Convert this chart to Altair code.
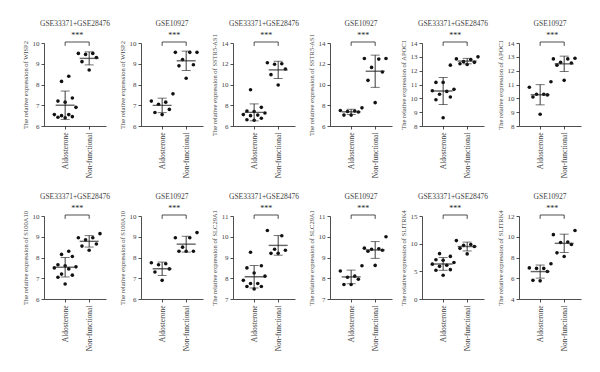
import altair as alt
import pandas as pd

FONT = "Liberation Serif"
INK = "#222222"
TXT = "#444444"

groups = ["Aldosterone", "Non-functional"]
datasets = ["GSE33371+GSE28476", "GSE10927"]
genes = ["WISP2", "SSTR5-AS1", "APOC1", "S100A10", "SLC29A1", "SLITRK4"]

# ---- values ----
wisp2_comb_aldo = [8.4, 8.15, 7.35, 7.2, 7.15, 6.9, 6.55, 6.55, 6.5, 6.45, 6.42, 6.4]
wisp2_comb_nonf = [9.5, 9.45, 9.5, 9.3, 9.1, 8.7]
wisp2_g109_aldo = [7.55, 7.2, 7.15, 7.05, 6.8, 6.65, 6.55]
wisp2_g109_nonf = [9.55, 9.55, 9.55, 9.2, 8.95, 8.9, 8.3]

sstr5_comb_aldo = [9.5, 7.8, 7.45, 7.4, 7.25, 7.1, 7.05, 7.0, 6.75, 6.6, 6.55]
sstr5_comb_nonf = [12.0, 11.95, 12.1, 11.5, 10.95, 9.95]
sstr5_g109_aldo = [7.75, 7.5, 7.45, 7.4, 7.35, 7.05, 7.05]
sstr5_g109_nonf = [12.5, 12.5, 12.45, 11.65, 11.2, 10.4, 8.25]

apoc1_comb_aldo = [12.4, 11.15, 11.15, 10.65, 10.55, 10.5, 10.3, 10.1, 9.9, 8.6]
apoc1_comb_nonf = [13.0, 12.85, 12.8, 12.65, 12.6, 12.5, 12.45]
apoc1_g109_aldo = [11.2, 10.8, 10.3, 10.3, 10.25, 10.1, 8.85]
apoc1_g109_nonf = [12.9, 12.85, 12.85, 12.6, 12.55, 12.4, 11.3]

s100_comb_aldo = [8.3, 8.15, 8.05, 7.65, 7.6, 7.55, 7.5, 7.45, 7.2, 7.15, 7.05, 6.72]
s100_comb_nonf = [9.15, 8.95, 8.95, 8.85, 8.65, 8.55, 8.35]
s100_g109_aldo = [7.75, 7.7, 7.65, 7.45, 7.3, 6.9]
s100_g109_nonf = [9.2, 8.95, 8.95, 8.5, 8.3, 8.3, 8.3]

slc_comb_aldo = [9.25, 8.6, 8.5, 8.25, 8.1, 7.9, 7.75, 7.75, 7.6, 7.6, 7.48]
slc_comb_nonf = [10.3, 10.05, 9.4, 9.35, 9.2, 9.2]
slc_g109_aldo = [8.6, 8.35, 8.1, 8.05, 7.95, 7.7, 7.7]
slc_g109_nonf = [10.0, 9.45, 9.42, 9.4, 9.35, 9.3, 8.62]

slit_comb_aldo = [8.2, 7.7, 7.1, 7.0, 6.6, 6.3, 6.1, 5.9, 5.3, 5.2, 4.3]
slit_comb_nonf = [10.55, 9.85, 9.7, 9.5, 9.15, 8.15]
slit_g109_aldo = [7.4, 7.0, 6.95, 6.95, 6.65, 5.8, 5.75]
slit_g109_nonf = [10.6, 10.2, 9.5, 9.45, 9.25, 8.45, 8.1]

# y axis ranges (min, max, step) per panel
y_ranges = [
    (6, 10, 1), (6, 10, 1), (6, 14, 2), (6, 14, 2), (8, 14, 1), (8, 14, 1),
    (6, 10, 1), (6, 10, 1), (7, 11, 1), (7, 11, 1), (0, 15, 5), (4, 12, 2),
]

panel_data = [
    (wisp2_comb_aldo, wisp2_comb_nonf), (wisp2_g109_aldo, wisp2_g109_nonf),
    (sstr5_comb_aldo, sstr5_comb_nonf), (sstr5_g109_aldo, sstr5_g109_nonf),
    (apoc1_comb_aldo, apoc1_comb_nonf), (apoc1_g109_aldo, apoc1_g109_nonf),
    (s100_comb_aldo, s100_comb_nonf), (s100_g109_aldo, s100_g109_nonf),
    (slc_comb_aldo, slc_comb_nonf), (slc_g109_aldo, slc_g109_nonf),
    (slit_comb_aldo, slit_comb_nonf), (slit_g109_aldo, slit_g109_nonf),
]

JIT = [0.0, -0.3, 0.3, -0.15, 0.15, -0.45, 0.45]
XDOM = [-0.88, 1.7]
W, H = 62, 83

label_expr = f"datum.value == 0 ? '{groups[0]}' : '{groups[1]}'"


def panel(title, gene, aldo, nonf, yr):
    lo, hi, step = yr
    rng = hi - lo
    rows = []
    for gi, vals in enumerate([aldo, nonf]):
        order = sorted(range(len(vals)), key=lambda i: vals[i])
        for rank, i in enumerate(order):
            rows.append({"g": gi, "x": gi + JIT[rank % len(JIT)], "v": vals[i]})
    df = pd.DataFrame(rows)

    xs = alt.Scale(domain=XDOM, nice=False, zero=False)
    ys = alt.Scale(domain=[lo, hi], nice=False, zero=False)
    xaxis = alt.Axis(values=[0, 1], labelExpr=label_expr, labelAngle=270, title=None,
                     grid=False, tickSize=3, labelPadding=3, labelFontSize=7.5,
                     labelFont=FONT, labelColor=TXT, domainColor=INK, tickColor=INK,
                     domainWidth=0.8, tickWidth=0.8)
    yaxis = alt.Axis(values=list(range(lo, hi + 1, step)), title=f"The relative expression of {gene}",
                     grid=False, tickSize=3, labelPadding=2, labelFontSize=7,
                     labelFont=FONT, labelColor=TXT, titleFont=FONT, titleFontSize=6.5,
                     titleFontWeight="normal", titleColor=TXT, titlePadding=4,
                     domainColor=INK, tickColor=INK, domainWidth=0.8, tickWidth=0.8)

    def X(f):
        return alt.X(f, scale=xs, axis=xaxis)

    def Y(f):
        return alt.Y(f, scale=ys, axis=yaxis)

    pts = alt.Chart(df).mark_circle(size=13, color="#111111", opacity=1).encode(
        x=X("x:Q"), y=Y("v:Q"))
    stats = alt.Chart(df).transform_aggregate(
        m="mean(v)", sd="stdev(v)", groupby=["g"]
    ).transform_calculate(lo="datum.m - datum.sd", hi="datum.m + datum.sd")
    bar = stats.mark_rule(color=INK, strokeWidth=0.9).encode(
        x=X("g:Q"), y=Y("lo:Q"), y2="hi:Q")
    cap_lo = stats.mark_tick(orient="horizontal", size=9, thickness=0.9, color=INK).encode(
        x=X("g:Q"), y=Y("lo:Q"))
    cap_hi = stats.mark_tick(orient="horizontal", size=9, thickness=0.9, color=INK).encode(
        x=X("g:Q"), y=Y("hi:Q"))
    mean = stats.mark_tick(orient="horizontal", size=19, thickness=1.4, color=INK).encode(
        x=X("g:Q"), y=Y("m:Q"))

    top = hi + 0.012 * rng
    br = pd.DataFrame({"a": [0], "b": [1], "y": [top]})
    legs = pd.DataFrame({"a": [0, 1], "y": [top, top], "y2": [hi - 0.035 * rng] * 2})
    star = pd.DataFrame({"a": [0.5], "y": [hi + 0.085 * rng], "t": ["***"]})
    bracket = alt.Chart(br).mark_rule(color=INK, strokeWidth=0.8).encode(
        x=X("a:Q"), x2="b:Q", y=Y("y:Q"))
    leg = alt.Chart(legs).mark_rule(color=INK, strokeWidth=0.8).encode(
        x=X("a:Q"), y=Y("y:Q"), y2="y2:Q")
    stars = alt.Chart(star).mark_text(font=FONT, fontSize=8, color=INK, baseline="middle").encode(
        x=X("a:Q"), y=Y("y:Q"), text="t:N")

    return alt.layer(pts, bar, cap_lo, cap_hi, mean, bracket, leg, stars).properties(
        width=W, height=H,
        title=alt.TitleParams(title, font=FONT, fontSize=7.5, fontWeight="normal",
                              color=TXT, offset=4, anchor="middle"),
    )


panels = []
for k in range(12):
    gene = genes[k // 2]
    ds = datasets[k % 2]
    aldo, nonf = panel_data[k]
    panels.append(panel(ds, gene, aldo, nonf, y_ranges[k]))

row1 = alt.hconcat(*panels[:6], spacing=8)
row2 = alt.hconcat(*panels[6:], spacing=8)
chart = alt.vconcat(row1, row2, spacing=15).properties(
    padding={"left": 14, "top": 12, "right": 2, "bottom": 2}
).configure(font=FONT, view=alt.ViewConfig(stroke=None))

chart.save("out.html", embed_options={"renderer": "svg", "actions": False})
